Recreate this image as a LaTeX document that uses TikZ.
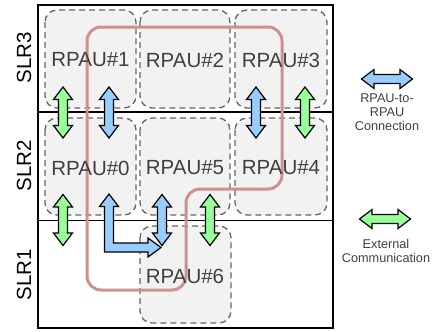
\documentclass[tikz,border=0pt]{standalone}
\usepackage{fontspec}
\setmainfont{Liberation Sans}
\definecolor{boxfill}{HTML}{F2F2F2}
\definecolor{boxline}{HTML}{666666}
\definecolor{routecol}{HTML}{D09090}
\definecolor{extgreen}{HTML}{99FF99}
\definecolor{linkblue}{HTML}{99CCFF}
\definecolor{labelgrey}{HTML}{404040}
\begin{document}
\begin{tikzpicture}[x=1pt,y=-1pt,
  rpau/.style={draw=boxline, fill=boxfill, dashed, dash pattern=on 6pt off 4pt,
    line width=1.3pt, rounded corners=12pt},
  rpaulabel/.style={text=labelgrey, font=\fontsize{20.5}{22}\selectfont, inner sep=0pt},
  slrlabel/.style={text=black, font=\fontsize{20.5}{22}\selectfont, rotate=90, inner sep=0pt},
  arrowline/.style={draw=black, line width=1.2pt, line join=miter},
  ext/.style={fill=extgreen},
  link/.style={fill=linkblue},
  % vertical block double arrow, 51pt long, centred on the pic origin
  vda/.pic={
    \path[pic actions, arrowline]
      (0,-25.5) -- (9.5,-13) -- (4.5,-13) -- (4.5,13) -- (9.5,13) -- (0,25.5)
      -- (-9.5,13) -- (-4.5,13) -- (-4.5,-13) -- (-9.5,-13) -- cycle;
  },
  route/.style={draw=routecol, line width=3pt, rounded corners=14pt},
  legendtext/.style={text=labelgrey, font=\fontsize{12.7}{14}\selectfont, align=center, inner sep=0pt}
]
\useasboundingbox (0,0) rectangle (434,332);

% RPAU regions
\draw[rpau] (45,10) rectangle (136,108);
\draw[rpau] (140,10) rectangle (230,108);
\draw[rpau] (235,10) rectangle (327,108);
\draw[rpau] (45,118) rectangle (136,215);
\draw[rpau] (140,118) rectangle (230,215);
\draw[rpau] (235,118) rectangle (327,215);
\draw[rpau] (140,226) rectangle (231,323);

% SLR frame
\draw[line width=1.6pt] (38,5) rectangle (333,328);
\draw[line width=1.6pt] (38,112) -- (333,112);
\draw[line width=1.6pt] (38,220.5) -- (333,220.5);

% routing path
\draw[route] (87,27) -- (282,27) -- (282,189) -- (186,189) -- (186,290) -- (87,290) -- cycle;

% labels
\node[rpaulabel] (r1) at (90.5,60) {RPAU\#1};
\node[rpaulabel] (r2) at (185,60) {RPAU\#2};
\node[rpaulabel] (r3) at (281,60) {RPAU\#3};
\node[rpaulabel] (r0) at (90.5,168) {RPAU\#0};
\node[rpaulabel] (r5) at (185,168) {RPAU\#5};
\node[rpaulabel] (r4) at (281,168) {RPAU\#4};
\node[rpaulabel] (r6) at (185,276) {RPAU\#6};

\node[slrlabel] (slr3) at (24,58) {SLR3};
\node[slrlabel] (slr2) at (24,166) {SLR2};
\node[slrlabel] (slr1) at (24,275) {SLR1};

% inter-SLR arrows
\pic[ext]  at (63,112.5)  {vda};
\pic[link] at (109,112.5) {vda};
\pic[link] at (256,112.5) {vda};
\pic[ext]  at (305,112.5) {vda};

\pic[ext]  at (63,220)  {vda};
\pic[link] at (162,220) {vda};
\pic[ext]  at (210,220) {vda};

% bent RPAU-to-RPAU link from RPAU#0 to RPAU#6
\path[link, arrowline]
  (109,194) -- (118.5,206.5) -- (113.5,206.5) -- (113.5,243) -- (148,243)
  -- (148,238) -- (161,247.5) -- (148,257) -- (148,252) -- (104.5,252)
  -- (104.5,206.5) -- (99.5,206.5) -- cycle;

% legend
\pic[link, rotate=90] at (387,79) {vda};
\node[legendtext, anchor=north] (lt1) at (387,94) {RPAU-to-\\RPAU\\Connection};
\pic[ext, rotate=90] at (385,219) {vda};
\node[legendtext, anchor=north] (lt2) at (386,239) {External\\Communication};
\end{tikzpicture}
\end{document}
